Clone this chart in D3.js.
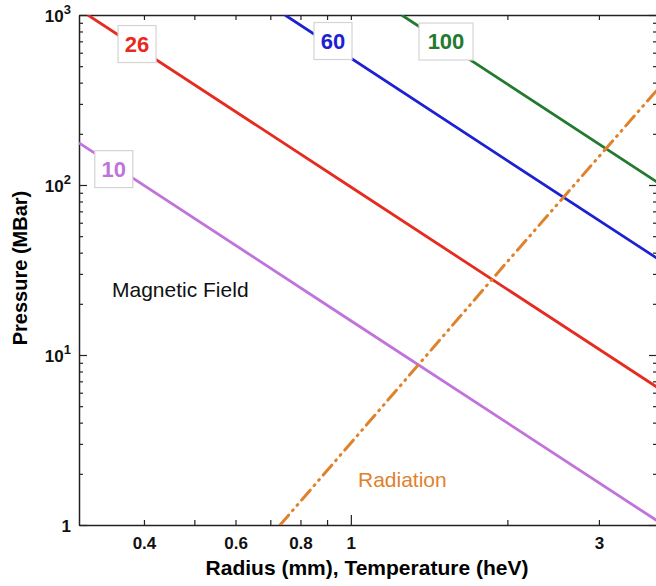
<!DOCTYPE html>
<html>
<head>
<meta charset="utf-8">
<script src="https://cdn.jsdelivr.net/npm/d3@7"></script>
<style>
  body { margin: 0; background: #fff; }
  svg { display: block; font-family: "Liberation Sans", Arial, Helvetica, sans-serif; }
  .axis path { stroke: #222; stroke-width: 1.5; }
  .axis line { stroke: #222; stroke-width: 1.2; }
  .axis text { font-size: 17px; font-weight: bold; fill: #111; }
</style>
</head>
<body>
<svg width="656" height="586"></svg>
<script>
// log-log: pressure vs radius / temperature
var field10 = { r: [0.30, 1.0, 3.88], p: [177, 15.9, 1.06] };
var field26 = { r: [0.312, 1.0, 3.88], p: [1000, 97.3, 6.47] };
var field60 = { r: [0.747, 2.0, 3.88], p: [1000, 139, 37.1] };
var field100 = { r: [1.252, 2.0, 3.88], p: [1000, 392, 104] };
var radiation = { t: [0.731, 2.0, 3.88], p: [1, 35.4, 362] };

var xTickValues = [0.4, 0.5, 0.6, 0.7, 0.8, 0.9, 1, 2, 3];
var xTickLabels = [0.4, 0.6, 0.8, 1, 3];
var yDecades = [1, 10, 100, 1000];
var yMinor = [2, 3, 4, 5, 6, 7, 8, 9, 20, 30, 40, 50, 60, 70, 80, 90, 200, 300, 400, 500, 600, 700, 800, 900];

var svg = d3.select("svg"),
  margin = { top: 15, right: 0, bottom: 61, left: 79 },
  width = 578,
  height = 510;

var x = d3.scaleLog().domain([0.3, 3.88]).range([0, width]),
  y = d3.scaleLog().domain([1, 1000]).range([height, 0]);

var g = svg.append("g")
  .attr("transform", "translate(" + margin.left + "," + margin.top + ")");

g.append("clipPath").attr("id", "clip")
  .append("rect").attr("width", width).attr("height", height);

// axes (ticks point inward on all four sides)
var bottom = g.append("g")
  .attr("class", "axis")
  .attr("transform", "translate(0," + height + ")")
  .call(d3.axisBottom(x).tickValues(xTickValues).tickSize(-5).tickSizeOuter(0).tickPadding(12)
    .tickFormat(function (d) { return xTickLabels.indexOf(d) >= 0 ? d3.format("~g")(d) : ""; }));
bottom.selectAll(".tick line").filter(function (d) { return d === 1; }).attr("y2", -10);

g.append("g")
  .attr("class", "axis")
  .call(d3.axisTop(x).tickValues(xTickValues).tickSize(-5).tickSizeOuter(0).tickFormat(""));

var yAll = yDecades.concat(yMinor);

var left = g.append("g")
  .attr("class", "axis")
  .call(d3.axisLeft(y).tickValues(yAll).tickSize(-4).tickSizeOuter(0).tickPadding(8)
    .tickFormat(function (d) { return yDecades.indexOf(d) >= 0 ? "x" : ""; }));
left.selectAll(".tick line").filter(function (d) { return yDecades.indexOf(d) >= 0; }).attr("x2", 8);
left.selectAll(".tick text").filter(function (d) { return yDecades.indexOf(d) >= 0; })
  .attr("dy", "0.36em")
  .each(function (d) {
    var t = d3.select(this).text(null);
    var e = Math.round(Math.log10(d));
    if (e === 0) { t.text("1"); return; }
    t.append("tspan").text("10");
    t.append("tspan").attr("dy", "-0.55em").style("font-size", "13px").text(e);
  });

var right = g.append("g")
  .attr("class", "axis")
  .attr("transform", "translate(" + width + ",0)")
  .call(d3.axisRight(y).tickValues(yAll).tickSize(-4).tickSizeOuter(0).tickFormat(""));
right.selectAll(".tick line").filter(function (d) { return yDecades.indexOf(d) >= 0; }).attr("x2", -8);

// curves
var line = d3.line()
  .x(function (d) { return x(d[0]); })
  .y(function (d) { return y(d[1]); });

var series = [
  { r: field10.r, p: field10.p, color: "#c173dc", label: "10", lx: 0.350, ly: 124 },
  { r: field26.r, p: field26.p, color: "#e62b1f", label: "26", lx: 0.388, ly: 675 },
  { r: field60.r, p: field60.p, color: "#1c22d2", label: "60", lx: 0.924, ly: 703 },
  { r: field100.r, p: field100.p, color: "#217a2e", label: "100", lx: 1.524, ly: 698 }
];

var plot = g.append("g").attr("clip-path", "url(#clip)");

series.forEach(function (s) {
  plot.append("path")
    .datum(d3.zip(s.r, s.p))
    .attr("fill", "none")
    .attr("stroke", s.color)
    .attr("stroke-width", 2.8)
    .attr("d", line);
});

plot.append("path")
  .datum(d3.zip(radiation.t, radiation.p))
  .attr("fill", "none")
  .attr("stroke", "#e0822c")
  .attr("stroke-width", 3)
  .attr("stroke-linecap", "round")
  .attr("stroke-dasharray", "13,6,1,6,1,6")
  .attr("d", line);

// boxed current labels
series.forEach(function (s) {
  var lg = g.append("g").attr("transform", "translate(" + x(s.lx) + "," + y(s.ly) + ")");
  var w = s.label.length > 2 ? 54 : 38;
  lg.append("rect")
    .attr("x", -w / 2).attr("y", -18.5)
    .attr("width", w).attr("height", 37)
    .attr("fill", "#fff")
    .attr("stroke", "#d4d4d4")
    .attr("stroke-width", 1.2);
  lg.append("text")
    .attr("text-anchor", "middle")
    .attr("dy", "0.36em")
    .style("font-size", "22px")
    .style("font-weight", "bold")
    .attr("fill", s.color)
    .text(s.label);
});

// annotations
svg.append("text")
  .attr("x", 112).attr("y", 297)
  .style("font-size", "21px")
  .attr("fill", "#111")
  .text("Magnetic Field");

svg.append("text")
  .attr("x", 358).attr("y", 487)
  .style("font-size", "21px")
  .attr("fill", "#e0822c")
  .text("Radiation");

// axis titles
svg.append("text")
  .attr("x", margin.left + width / 2 - 1).attr("y", 575)
  .attr("text-anchor", "middle")
  .style("font-size", "21px")
  .style("font-weight", "bold")
  .text("Radius (mm), Temperature (heV)");

svg.append("text")
  .attr("transform", "translate(27," + (margin.top + height / 2 - 2) + ") rotate(-90)")
  .attr("text-anchor", "middle")
  .style("font-size", "20px")
  .style("font-weight", "bold")
  .text("Pressure (MBar)");
</script>
</body>
</html>
